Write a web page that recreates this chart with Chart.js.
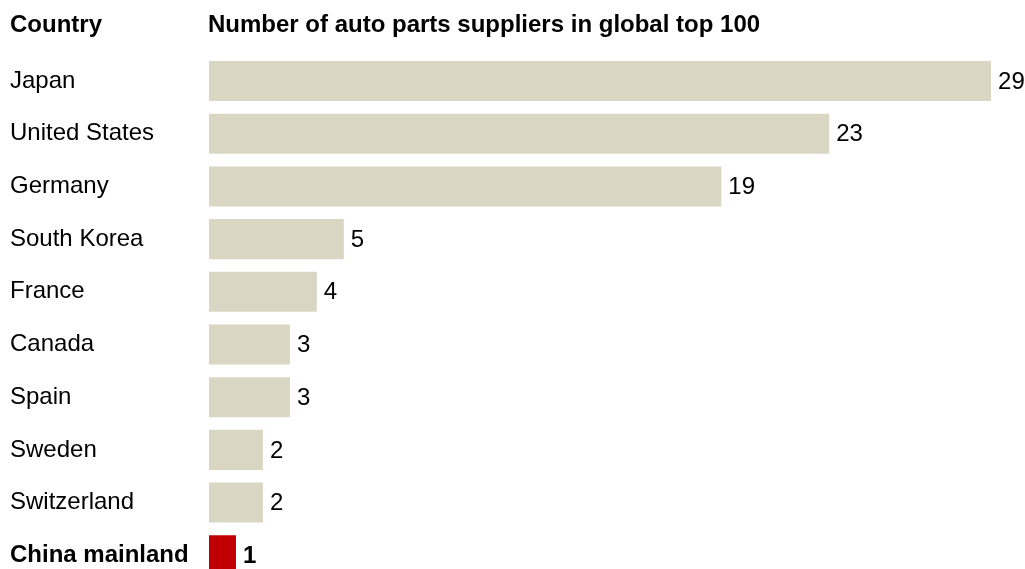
<!DOCTYPE html>
<html>
<head>
<meta charset="utf-8">
<script src="https://cdn.jsdelivr.net/npm/chart.js@4/dist/chart.umd.min.js"></script>
<style>
  body { margin: 0; background: #fff; overflow: hidden; }
  /* taller than the window: the last bar is cut by the bottom edge */
  #wrap { width: 1025px; height: 599px; position: relative; }
</style>
</head>
<body>
<div id="wrap"><canvas id="suppliers"></canvas></div>
<script>
// data
const countries = ["Japan", "United States", "Germany", "South Korea", "France",
  "Canada", "Spain", "Sweden", "Switzerland", "China mainland"];
const supplierCounts = [29, 23, 19, 5, 4, 3, 3, 2, 2, 1];
const highlighted = "China mainland";
const headerLeft = "Country";
const headerRight = "Number of auto parts suppliers in global top 100";

const FONT = "'Liberation Sans', Arial, sans-serif";
const SIZE = 24;

function isHighlight(i) {
  return countries[i] === highlighted;
}

// header texts + numbers at the end of the bars
const labelsPlugin = {
  id: "labels",
  afterDatasetsDraw(chart) {
    const ctx = chart.ctx;
    const meta = chart.getDatasetMeta(0);
    ctx.save();
    ctx.fillStyle = "#000";
    ctx.textBaseline = "middle";
    ctx.textAlign = "left";
    meta.data.forEach(function (bar, i) {
      ctx.font = (isHighlight(i) ? "bold " : "") + SIZE + "px " + FONT;
      ctx.fillText(String(supplierCounts[i]), bar.x + 7, bar.y + 1);
    });
    ctx.font = "bold " + SIZE + "px " + FONT;
    ctx.fillText(headerLeft, 10, 25);
    ctx.fillText(headerRight, chart.chartArea.left - 1, 25);
    ctx.restore();
  }
};

const canvas = document.querySelector("#suppliers");
const chart = new Chart(canvas.getContext("2d"), {
  type: "bar",
  data: {
    labels: countries,
    datasets: [
      {
        data: supplierCounts,
        backgroundColor: countries.map(function (c) {
          return c === highlighted ? "#C00000" : "#D9D7C4";
        }),
        barPercentage: 0.76,
        categoryPercentage: 1,
      },
    ],
  },
  options: {
    indexAxis: "y",
    responsive: true,
    maintainAspectRatio: false,
    animation: false,
    layout: {
      padding: { left: 10, top: 54.7, right: 7, bottom: 0 },
    },
    scales: {
      x: {
        display: false,
        min: 0,
        max: 30,
      },
      y: {
        afterFit(axis) {
          axis.width = 199;
        },
        grid: { display: false },
        border: { display: false },
        ticks: {
          crossAlign: "far",
          color: "#000",
          font: function (ctx) {
            return {
              family: FONT,
              size: SIZE,
              weight: isHighlight(ctx.index) ? "bold" : "normal",
            };
          },
        },
      },
    },
    plugins: {
      legend: { display: false },
      tooltip: { enabled: false },
    },
  },
  plugins: [labelsPlugin],
});
</script>
</body>
</html>
